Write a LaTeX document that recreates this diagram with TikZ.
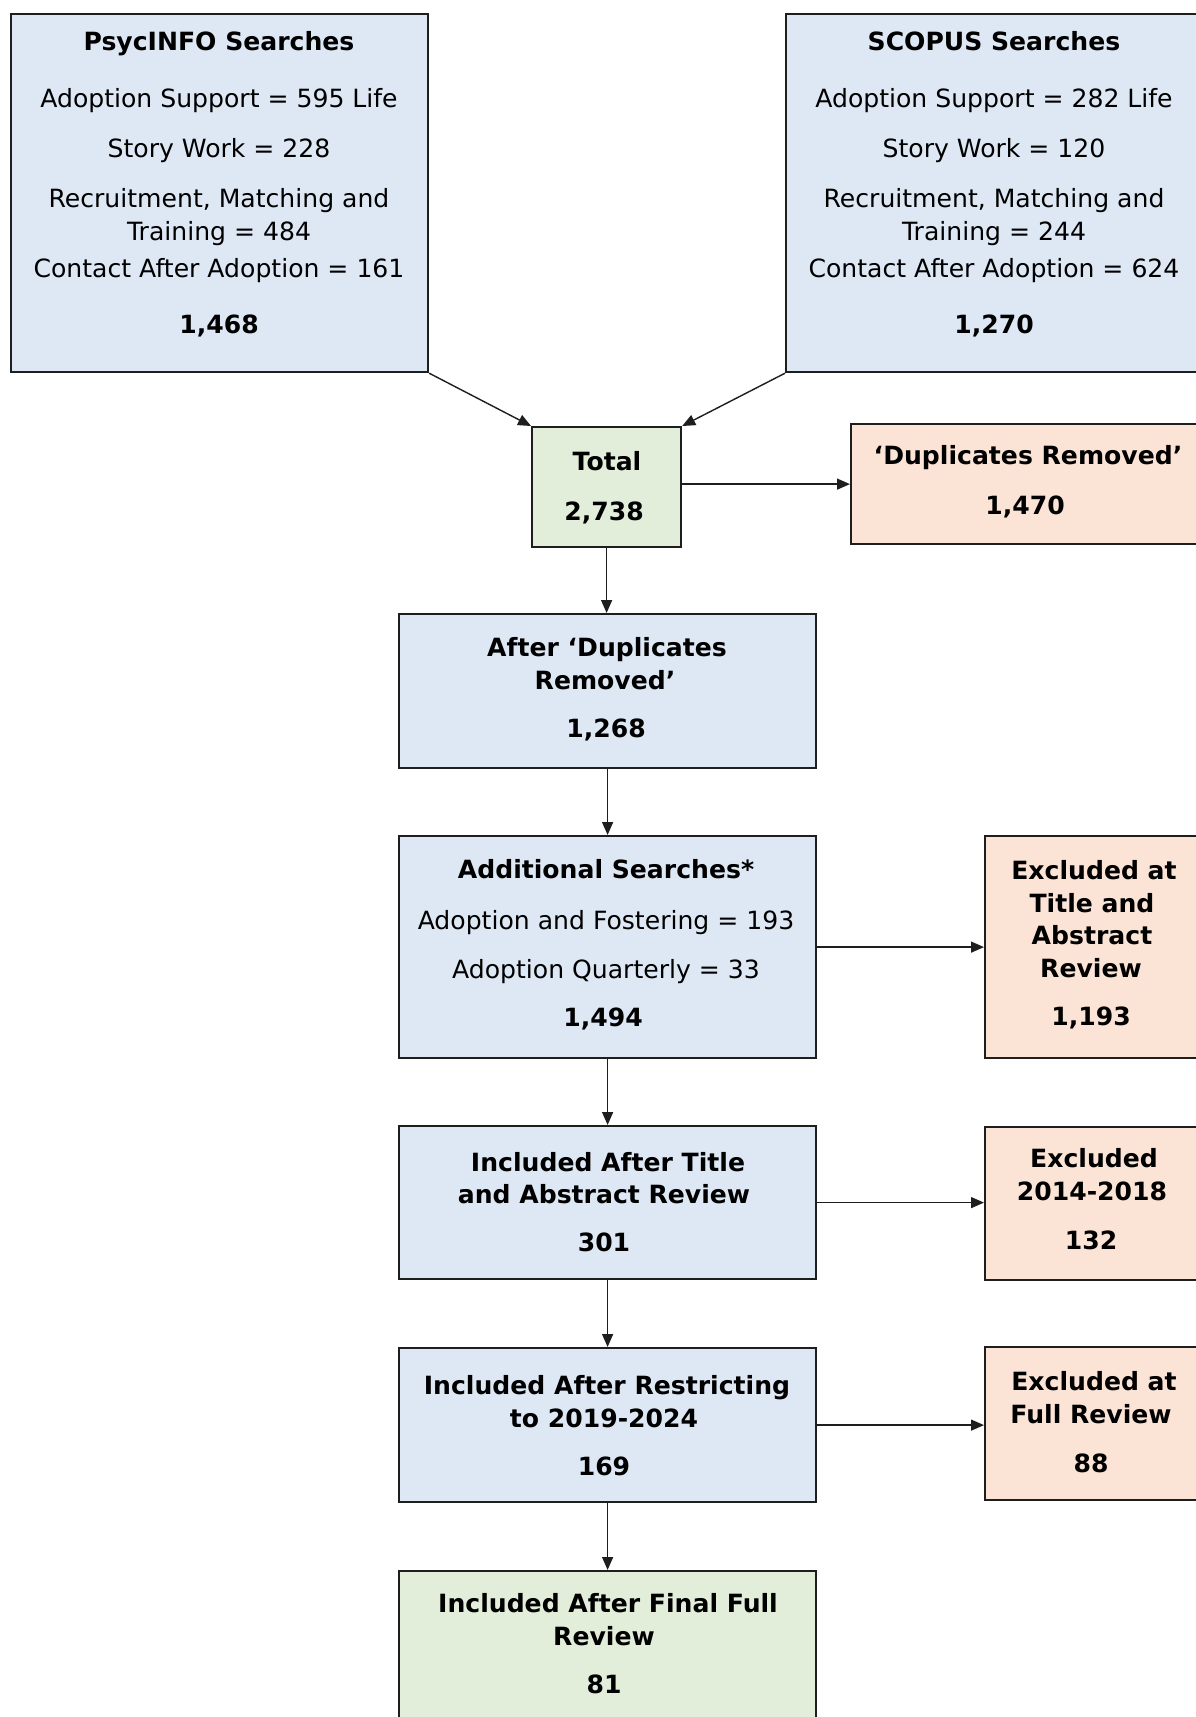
\documentclass[tikz,border=0pt]{standalone}
\usepackage{fontspec}
\setmainfont{DejaVu Sans}
\usetikzlibrary{arrows.meta}
\definecolor{bluefill}{HTML}{DEE8F4}
\definecolor{greenfill}{HTML}{E2EEDA}
\definecolor{orangefill}{HTML}{FBE4D6}
\definecolor{edgecol}{HTML}{1E1E1E}
\begin{document}
\begin{tikzpicture}[x=1pt,y=-1pt,
  box/.style={draw=edgecol, line width=2.2pt, inner sep=0pt, anchor=north west},
  bluebox/.style={box, fill=bluefill},
  greenbox/.style={box, fill=greenfill},
  orangebox/.style={box, fill=orangefill},
  ln/.style={inner sep=0pt, text height=0.73em, text depth=0pt, anchor=center, yshift=-5.5pt, font=\fontsize{25.1}{33}\selectfont},
  bl/.style={ln, font=\fontsize{25.1}{33}\selectfont\bfseries},
  arr/.style={draw=edgecol, line width=1.4pt, -{Triangle[length=13pt,width=11pt]}}
]
\useasboundingbox (0,0) rectangle (1195,1717);
\fill[white] (0,0) rectangle (1195,1717);

% boxes
\node[bluebox, minimum width=417pt, minimum height=358pt] (psyc) at (10,13) {};
\node[bluebox, minimum width=417pt, minimum height=358pt] (scop) at (785,13) {};
\node[greenbox, minimum width=149pt, minimum height=120pt] (total) at (531,426) {};
\node[orangebox, minimum width=356pt, minimum height=120pt] (dup) at (850,423) {};
\node[bluebox, minimum width=417pt, minimum height=154pt] (after) at (398,613) {};
\node[bluebox, minimum width=417pt, minimum height=222pt] (add) at (398,835) {};
\node[orangebox, minimum width=216pt, minimum height=222pt] (exta) at (984,835) {};
\node[bluebox, minimum width=417pt, minimum height=153pt] (incta) at (398,1125) {};
\node[orangebox, minimum width=216pt, minimum height=153pt] (exyr) at (984,1126) {};
\node[bluebox, minimum width=417pt, minimum height=154pt] (restr) at (398,1347) {};
\node[orangebox, minimum width=216pt, minimum height=153pt] (exfull) at (984,1346) {};
\node[greenbox, minimum width=417pt, minimum height=154pt] (final) at (398,1570) {};

% PsycINFO text
\node[bl] (p1) at (219,41.6) {PsycINFO Searches};
\node[ln] (p2) at (219,98.6) {Adoption Support = 595 Life};
\node[ln] (p3) at (219,147.9) {Story Work = 228};
\node[ln] (p4) at (219,198.2) {Recruitment, Matching and};
\node[ln] (p5) at (219,231.1) {Training = 484};
\node[ln] (p6) at (219,268.3) {Contact After Adoption = 161};
\node[bl] (p7) at (219,324.2) {1,468};

% SCOPUS text
\node[bl] (s1) at (994,41.6) {SCOPUS Searches};
\node[ln] (s2) at (994,98.6) {Adoption Support = 282 Life};
\node[ln] (s3) at (994,147.9) {Story Work = 120};
\node[ln] (s4) at (994,198.2) {Recruitment, Matching and};
\node[ln] (s5) at (994,231.1) {Training = 244};
\node[ln] (s6) at (994,268.3) {Contact After Adoption = 624};
\node[bl] (s7) at (994,324.2) {1,270};

% Total
\node[bl] (t1) at (607,461.1) {Total};
\node[bl] (t2) at (604,511.5) {2,738};

% Duplicates removed
\node[bl] (d1) at (1028,455.6) {‘Duplicates Removed’};
\node[bl] (d2) at (1025,504.9) {1,470};

% After duplicates removed
\node[bl] (a1) at (607,647.3) {After ‘Duplicates};
\node[bl] (a2) at (605,680.2) {Removed’};
\node[bl] (a3) at (606,728.4) {1,268};

% Additional searches
\node[bl] (b1) at (606,869.7) {Additional Searches*};
\node[ln] (b2) at (606,920) {Adoption and Fostering = 193};
\node[ln] (b3) at (606,969.3) {Adoption Quarterly = 33};
\node[bl] (b4) at (603,1017.5) {1,494};

% Excluded at title and abstract
\node[bl] (e1) at (1094,870.8) {Excluded at};
\node[bl] (e2) at (1092,903.6) {Title and};
\node[bl] (e3) at (1092,935.4) {Abstract};
\node[bl] (e4) at (1091,968.2) {Review};
\node[bl] (e5) at (1091,1016.4) {1,193};

% Included after title and abstract
\node[bl] (i1) at (608,1162) {Included After Title};
\node[bl] (i2) at (604,1193.9) {and Abstract Review};
\node[bl] (i3) at (604,1242) {301};

% Excluded 2014-2018
\node[bl] (y1) at (1094,1158.8) {Excluded};
\node[bl] (y2) at (1092,1191.7) {2014-2018};
\node[bl] (y3) at (1091,1239.9) {132};

% Included after restricting
\node[bl] (r1) at (607,1385.6) {Included After Restricting};
\node[bl] (r2) at (604,1418.4) {to 2019-2024};
\node[bl] (r3) at (604,1466.6) {169};

% Excluded at full review
\node[bl] (f1) at (1094,1381.2) {Excluded at};
\node[bl] (f2) at (1091,1414) {Full Review};
\node[bl] (f3) at (1091,1463.3) {88};

% Included after final full review
\node[bl] (g1) at (608,1603.5) {Included After Final Full};
\node[bl] (g2) at (604,1636.4) {Review};
\node[bl] (g3) at (604,1684.5) {81};

% connectors
\draw[arr] (psyc.south east) -- (total.north west);
\draw[arr] (scop.south west) -- (total.north east);
\draw[arr] (dup.west -| total.east) -- (dup.west);
\draw[arr] (total.south) -- (total.south |- after.north);
\draw[arr] (after.south) -- (add.north);
\draw[arr] (add.east) -- (exta.west);
\draw[arr] (add.south) -- (incta.north);
\draw[arr] (incta.east) -- (incta.east -| exyr.west);
\draw[arr] (incta.south) -- (restr.north);
\draw[arr] (restr.east) -- (restr.east -| exfull.west);
\draw[arr] (restr.south) -- (final.north);
\end{tikzpicture}
\end{document}
